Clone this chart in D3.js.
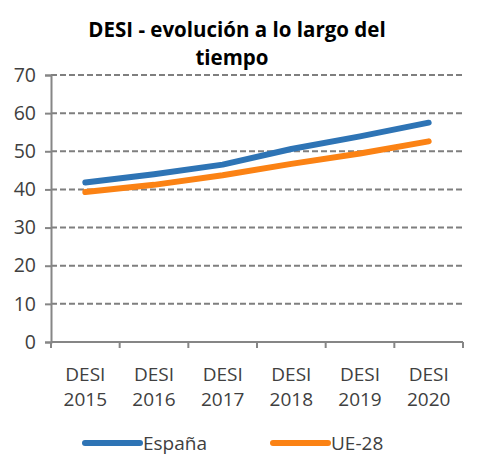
<!DOCTYPE html>
<html>
<head>
<meta charset="utf-8">
<script src="https://cdn.jsdelivr.net/npm/d3@7"></script>
<style>
  body { margin: 0; background: #fff; }
  svg { display: block; font-family: "Open Sans", "Noto Sans", sans-serif; }
</style>
</head>
<body>
<svg></svg>
<script>
var years = ["2015", "2016", "2017", "2018", "2019", "2020"];
var espana = [41.8, 44.0, 46.5, 50.6, 53.9, 57.5];
var ue28 = [39.3, 41.2, 43.7, 46.7, 49.4, 52.6];
var seriesNames = ["España", "UE-28"];
var seriesColors = ["#2e74b5", "#fb8214"];
var yTicks = [0, 10, 20, 30, 40, 50, 60, 70];

var width = 480, height = 465;
var margin = {left: 51, right: 17, top: 75, bottom: 123};
var w = width - margin.left - margin.right;
var h = height - margin.top - margin.bottom;

var svg = d3.select("svg").attr("width", width).attr("height", height);

var x = d3.scaleBand().domain(years).range([0, w]).paddingInner(0).paddingOuter(0);
var y = d3.scaleLinear().domain([0, 70]).range([h, 0]);

// title
var title = svg.append("text")
  .attr("text-anchor", "middle")
  .attr("font-weight", "bold")
  .attr("font-size", 20.5)
  .attr("fill", "#000");
title.append("tspan").attr("x", 237).attr("y", 37).text("DESI - evolución a lo largo del");
title.append("tspan").attr("x", 232).attr("y", 65).text("tiempo");

var g = svg.append("g").attr("transform", "translate(" + margin.left + "," + margin.top + ")");

// dashed gridlines
g.append("g").selectAll("line")
  .data(yTicks.filter(function(d){ return d > 0; }))
  .join("line")
  .attr("x1", 0).attr("x2", w)
  .attr("y1", function(d){ return y(d); })
  .attr("y2", function(d){ return y(d); })
  .attr("stroke", "#7f7f7f")
  .attr("stroke-width", 2)
  .attr("stroke-dasharray", "6,3");

// y axis
var yAxis = d3.axisLeft(y).tickValues(yTicks).tickSize(6).tickPadding(9);
var yg = g.append("g").call(yAxis);
yg.select(".domain").attr("stroke", "#868686").attr("stroke-width", 2);
yg.selectAll(".tick line").attr("stroke", "#868686").attr("stroke-width", 2);
yg.selectAll(".tick text")
  .attr("font-size", 19.5)
  .attr("fill", "#404040")
  .attr("font-family", "Open Sans, sans-serif");

// x axis line and boundary ticks
g.append("line")
  .attr("x1", 0).attr("x2", w)
  .attr("y1", h).attr("y2", h)
  .attr("stroke", "#868686").attr("stroke-width", 2);
var bounds = years.map(function(d){ return x(d); }).concat([x.range()[1]]);
g.append("g").selectAll("line")
  .data(bounds)
  .join("line")
  .attr("x1", function(d){ return d; }).attr("x2", function(d){ return d; })
  .attr("y1", h).attr("y2", h + 6)
  .attr("stroke", "#868686").attr("stroke-width", 2);

// x labels
var xl = g.append("g").selectAll("text")
  .data(years)
  .join("text")
  .attr("text-anchor", "middle")
  .attr("font-size", 19)
  .attr("fill", "#404040");
xl.append("tspan")
  .attr("x", function(d){ return x(d) + x.bandwidth() / 2; })
  .attr("y", h + 39)
  .text("DESI");
xl.append("tspan")
  .attr("x", function(d){ return x(d) + x.bandwidth() / 2; })
  .attr("y", h + 64)
  .text(function(d){ return d; });

// lines
var line = d3.line()
  .x(function(d, i){ return x(years[i]) + x.bandwidth() / 2; })
  .y(function(d){ return y(d); });

[espana, ue28].forEach(function(s, i){
  g.append("path")
    .attr("d", line(s))
    .attr("fill", "none")
    .attr("stroke", seriesColors[i])
    .attr("stroke-width", 6)
    .attr("stroke-linecap", "round")
    .attr("stroke-linejoin", "round");
});

// legend
var legendX = [85, 273];
var lg = svg.append("g").selectAll("g")
  .data(seriesNames)
  .join("g")
  .attr("transform", function(d, i){ return "translate(" + legendX[i] + ",443)"; });
lg.append("line")
  .attr("x1", 0).attr("x2", 55)
  .attr("stroke", function(d, i){ return seriesColors[i]; })
  .attr("stroke-width", 6)
  .attr("stroke-linecap", "round");
lg.append("text")
  .attr("x", 58).attr("y", 7)
  .attr("font-size", 19)
  .attr("fill", "#404040")
  .text(function(d){ return d; });
</script>
</body>
</html>
